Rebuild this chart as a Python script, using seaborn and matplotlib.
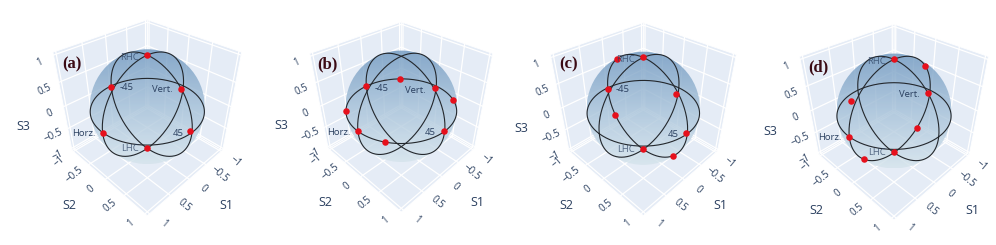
import numpy as np
import pandas as pd
import matplotlib
matplotlib.use("Agg")
import matplotlib.pyplot as plt
from matplotlib.colors import LinearSegmentedColormap
from matplotlib.patches import Circle, Polygon
import seaborn as sns

sns.set_theme(style="white")
plt.rcParams["font.family"] = ["Open Sans", "DejaVu Sans"]

# Parameters
TEXT_COLOR = "#2a3f5f"
WALL_COLOR = "#E5ECF6"
AXIS_RANGE = 1.05   # box half width
CAM_DIST = 5.14     # camera distance, in box units
FOCAL = 304.6       # px

PANEL_NAMES = ["(a)", "(b)", "(c)", "(d)"]
PANEL_CX = [147.3, 401.3, 643.3, 894.0]
PANEL_CY = [106.7, 106.3, 108.3, 111.0]
PANEL_SCALE = [1.0, 0.97, 0.985, 1.0]
PANEL_NAME_POS = [(72, 64), (327, 64), (569, 64), (818, 67)]

TICKS = [-1, -0.5, 0, 0.5, 1]
TICK_LABELS = ["\u22121", "\u22120.5", "0", "0.5", "1"]

# red points
A_S1 = [0, 0.02, 1, -0.93, 0, 0]
A_S2 = [0, 0.02, 0, 0, 0.96, -1]
A_S3 = [1, -0.96, 0, -0.03, 0, -0.02]

B_S1 = [1, -0.95, 0, 0, 0.87, -0.83, 0.81, -0.69]
B_S2 = [0, 0, 0.98, -1, 0.50, 0.55, -0.59, -0.73]
B_S3 = [0, -0.02, 0, 0, 0, 0, 0, 0]

C_S1 = [0, 0.02, 0, 0, 0, -0.92, 0, 0]
C_S2 = [0, 0, 0.98, -1, -0.67, 0, 0.75, -0.82]
C_S3 = [1, -0.98, 0, -0.02, 0.74, -0.1, -0.66, -0.57]

D_S1 = [0, 0, 1, -0.95, -0.80, 0.75, -0.66, 0.83]
D_S2 = [0, 0, 0, 0, 0, 0, 0, -0.09]
D_S3 = [1, -0.98, 0, -0.04, 0.60, -0.66, -0.75, 0.56]

POINTS = [(A_S1, A_S2, A_S3), (B_S1, B_S2, B_S3), (C_S1, C_S2, C_S3), (D_S1, D_S2, D_S3)]

# state labels: name, sphere position, px offset from that position
LABEL_NAMES = ["RHC", "LHC", "Horz.", "Vert.", "45", "-45"]
LABEL_POS = [(0, 0, 1), (0, 0, -1), (1, 0, 0), (-1, 0, 0), (0, 1, 0), (0, -1, 0)]
LABEL_OFFSET = [(-18, 2), (-17, 0), (-19, 1), (-21, 4), (-14, 1), (15, 2)]
PANEL_LABELS = [
    ["RHC", "LHC", "Horz.", "Vert.", "45", "-45"],
    ["Horz.", "Vert.", "45", "-45"],
    ["RHC", "LHC", "45", "-45"],
    ["RHC", "LHC", "Horz.", "Vert."],
]

RIGHT = np.array([-1, 1, 0]) / np.sqrt(2)
UP = np.array([-1, -1, 2]) / np.sqrt(6)
TOWARD = np.array([1, 1, 1]) / np.sqrt(3)

sphere_cmap = LinearSegmentedColormap.from_list(
    "sphere", ["#6e97bf", "#a4c0d8", "#d5e4ec"])


def project(s1, s2, s3, panel):
    """Perspective view of data coords, result in figure pixels."""
    p = np.array([np.asarray(s1, float), np.asarray(s2, float), np.asarray(s3, float)]) / AXIS_RANGE
    depth = CAM_DIST - (TOWARD @ p)
    k = FOCAL * PANEL_SCALE[panel] / depth
    return PANEL_CX[panel] + k * (RIGHT @ p), PANEL_CY[panel] - k * (UP @ p)


fig = plt.figure(figsize=(9.96, 2.45), dpi=100)
ax = fig.add_axes([0, 0, 1, 1])

L = AXIS_RANGE
th = np.linspace(0, 2 * np.pi, 241)
zero = np.zeros_like(th)

for i in range(4):
    # walls and floor
    walls = [
        [(-L, -L, -L), (L, -L, -L), (L, L, -L), (-L, L, -L)],
        [(-L, -L, -L), (-L, L, -L), (-L, L, L), (-L, -L, L)],
        [(-L, -L, -L), (L, -L, -L), (L, -L, L), (-L, -L, L)],
    ]
    for w in walls:
        xy = [project(*c, i) for c in w]
        ax.add_patch(Polygon(xy, closed=True, fc=WALL_COLOR, ec="white", lw=0.6, zorder=1))

    # grid
    for t in TICKS:
        for a, b in [((t, -L, -L), (t, L, -L)), ((-L, t, -L), (L, t, -L)),
                     ((-L, t, -L), (-L, t, L)), ((-L, -L, t), (-L, L, t)),
                     ((t, -L, -L), (t, -L, L)), ((-L, -L, t), (L, -L, t))]:
            x0, y0 = project(*a, i)
            x1, y1 = project(*b, i)
            ax.plot([x0, x1], [y0, y1], color="white", lw=0.9, zorder=2)

    # sphere, shaded top to bottom
    r = 1 / L
    rad = FOCAL * PANEL_SCALE[i] * r / np.sqrt(CAM_DIST ** 2 - r ** 2)
    cx, cy = PANEL_CX[i], PANEL_CY[i]
    shade = np.linspace(0, 1, 128).reshape(-1, 1)
    im = ax.imshow(shade, cmap=sphere_cmap, alpha=0.8, aspect="auto", zorder=3,
                   extent=[cx - rad, cx + rad, cy + rad, cy - rad])
    im.set_clip_path(Circle((cx, cy), rad, transform=ax.transData))

    # the three reference great circles
    for c1, c2, c3 in [(np.cos(th), np.sin(th), zero), (np.cos(th), zero, np.sin(th)), (zero, np.cos(th), np.sin(th))]:
        x, y = project(c1, c2, c3, i)
        sns.lineplot(x=x, y=y, sort=False, estimator=None, color="#23272c", lw=0.8, ax=ax, zorder=4)

    # measured states
    x, y = project(*POINTS[i], i)
    sns.scatterplot(x=x, y=y, color="#e6101c", s=22, linewidth=0, ax=ax, zorder=5)

    # state labels
    for name, pos, off in zip(LABEL_NAMES, LABEL_POS, LABEL_OFFSET):
        if name in PANEL_LABELS[i]:
            x, y = project(*pos, i)
            alpha = 0.75 if name in ("RHC", "LHC") else 1
            ax.text(x + off[0], y + off[1], name, color=TEXT_COLOR, fontsize=6.8, ha="center",
                    va="center", zorder=6, alpha=alpha)

    # tick labels along the outer box edges
    s = PANEL_SCALE[i]
    for t, lab in zip(TICKS, TICK_LABELS):
        x, y = project(t, L, -L, i)
        ax.text(x + 14 * s, y + 10 * s, lab, color=TEXT_COLOR, fontsize=7, rotation=-40,
                ha="center", va="center", rotation_mode="anchor")
        x, y = project(L, t, -L, i)
        ax.text(x - 14 * s, y + 10 * s, lab, color=TEXT_COLOR, fontsize=7, rotation=40,
                ha="center", va="center", rotation_mode="anchor")
        x, y = project(L, -L, t, i)
        ax.text(x - 14 * s, y + 7 * s, lab, color=TEXT_COLOR, fontsize=7, rotation=25,
                ha="center", va="center", rotation_mode="anchor")

    # axis titles
    ax.text(cx + 78.6 * s, cy + 99 * s, "S1", color=TEXT_COLOR, fontsize=9, ha="center", va="center")
    ax.text(cx - 78 * s, cy + 99 * s, "S2", color=TEXT_COLOR, fontsize=9, ha="center", va="center")
    ax.text(cx - 124 * s, cy + 20 * s, "S3", color=TEXT_COLOR, fontsize=9, ha="center", va="center")

    # panel letter
    ax.text(*PANEL_NAME_POS[i], PANEL_NAMES[i], family="Liberation Serif", fontweight="bold",
            fontsize=12, color="#3a0a14", ha="center", va="center", zorder=7)

ax.set_xlim(0, 996)
ax.set_ylim(245, 0)
ax.axis("off")
fig.savefig("out.png", dpi=100, facecolor="white")
